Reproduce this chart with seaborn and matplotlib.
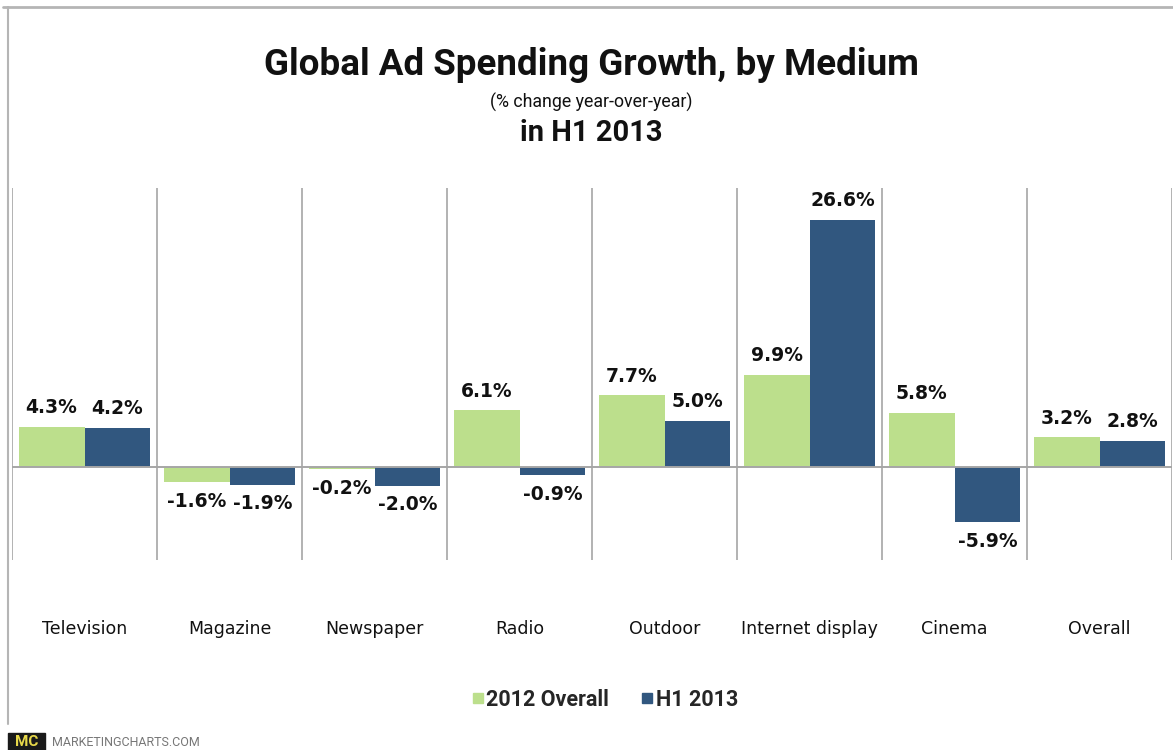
import matplotlib
matplotlib.use("Agg")
import matplotlib.pyplot as plt
from matplotlib.lines import Line2D
from matplotlib.patches import Rectangle
import seaborn as sns
import pandas as pd

# Growth in ad spending by medium (% change year-over-year)
media = ["Television", "Magazine", "Newspaper", "Radio", "Outdoor",
         "Internet display", "Cinema", "Overall"]
growth_2012 = [4.3, -1.6, -0.2, 6.1, 7.7, 9.9, 5.8, 3.2]
growth_h1_2013 = [4.2, -1.9, -2.0, -0.9, 5.0, 26.6, -5.9, 2.8]
series_names = ["2012 Overall", "H1 2013"]

GREEN = "#BCDF8C"
BLUE = "#31577F"
GRID = "#A6A6A6"
INK = "#111111"
HEAD_FONT = ["Roboto", "DejaVu Sans"]

df = pd.DataFrame({
    "medium": media * 2,
    "growth": growth_2012 + growth_h1_2013,
    "period": [series_names[0]] * len(media) + [series_names[1]] * len(media),
})

sns.set_theme(style="white")
plt.rcParams["font.family"] = ["DejaVu Sans"]

W, H = 1173, 750
fig = plt.figure(figsize=(W / 100, H / 100), dpi=100)
fig.patch.set_facecolor("white")

def fx(px):
    return px / W

def fy(py):
    return 1 - py / H

ax = fig.add_axes([fx(12), fy(560), fx(1172) - fx(12), fy(188) - fy(560)])
sns.barplot(data=df, x="medium", y="growth", hue="period",
            palette=[GREEN, BLUE], width=0.91, saturation=1,
            linewidth=0, ax=ax, legend=False, errorbar=None)

ax.set_ylim(-10, 30)
ax.set_xlim(-0.5, len(media) - 0.5)
for s in ax.spines.values():
    s.set_visible(False)
ax.set_yticks([])
ax.set_xlabel("")
ax.set_ylabel("")
ax.tick_params(axis="x", length=0, pad=43, labelsize=12.5, colors=INK)

# Category separators and zero line
for i in range(len(media) + 1):
    ax.axvline(i - 0.5, color=GRID, lw=1.2, zorder=0)
ax.axhline(0, color=GRID, lw=1.4, zorder=3)

for cont in ax.containers:
    vals = [b.get_height() for b in cont]
    ax.bar_label(cont, labels=[f"{v:.1f}%" for v in vals], padding=7,
                 fontsize=13.5, fontweight="bold", color=INK)

# Titles
fig.text(fx(591), fy(65), "Global Ad Spending Growth, by Medium",
         ha="center", va="center", fontsize=26.5, fontweight="bold",
         family=HEAD_FONT, color=INK)
fig.text(fx(591), fy(102), "(% change year-over-year)", ha="center",
         va="center", fontsize=12.8, family=HEAD_FONT, color=INK)
fig.text(fx(591), fy(133), "in H1 2013", ha="center", va="center",
         fontsize=21, fontweight="bold", family=HEAD_FONT, color=INK)

# Legend
handles = [Line2D([], [], marker="s", linestyle="none", markersize=6.5,
                  markerfacecolor=c, markeredgecolor=c) for c in (GREEN, BLUE)]
fig.legend(handles, series_names, loc="center",
           bbox_to_anchor=(fx(604), fy(700)), ncol=2, frameon=False,
           prop={"weight": "bold", "size": 15.5, "family": HEAD_FONT},
           handletextpad=0.05, columnspacing=1.4, handlelength=0.7)

# Frame lines
fig.add_artist(Line2D([fx(3), 1], [fy(7), fy(7)], color="#B5B5B5", lw=2))
fig.add_artist(Line2D([fx(8), fx(8)], [fy(7), fy(724)], color="#B5B5B5", lw=1.5))

# Footer brand
fig.add_artist(Rectangle((fx(8), 0), fx(45) - fx(8), fy(733), color="#1A1A1A",
                         transform=fig.transFigure))
fig.text(fx(26.5), fy(742), "MC", ha="center", va="center", fontsize=11,
         fontweight="bold", color="#E8D94A", family=HEAD_FONT)
fig.text(fx(52), fy(742), "MARKETINGCHARTS.COM", ha="left", va="center",
         fontsize=9, color="#777777", family=HEAD_FONT)

fig.savefig("out.png", dpi=100, facecolor="white")
